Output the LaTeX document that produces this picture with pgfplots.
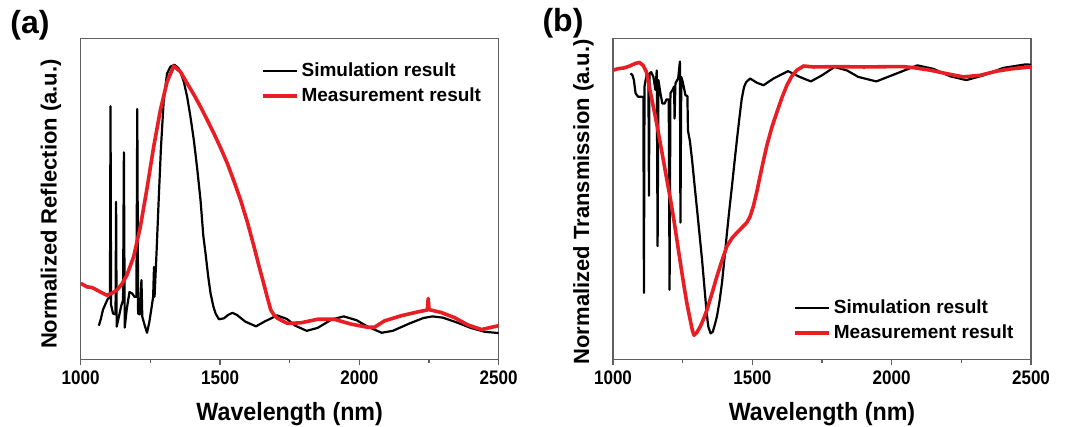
\documentclass[border=0pt]{standalone}
\usepackage{fontspec}
\setmainfont{Liberation Sans}
\usepackage{graphicx}
\usepackage{pgfplots}
\pgfplotsset{compat=1.18}
\definecolor{measred}{RGB}{232,30,36}
\definecolor{framegray}{RGB}{95,95,95}

\pgfplotsset{
  specpanel/.style={
    scale only axis, width=209pt, height=160.5pt,
    xmin=1000, xmax=2500, ymin=0, ymax=100,
    xtick={1000,1500,2000,2500}, minor x tick num=1,
    ytick=\empty, xtick pos=bottom, tick align=outside,
    major tick length=3pt, minor tick length=1.8pt,
    axis line style={framegray, line width=0.65pt},
    every tick/.style={framegray, line width=0.65pt},
    /pgf/number format/assume math mode=true,
    /pgf/number format/1000 sep={},
    xticklabel={\scalebox{0.87}[1]{\pgfmathprintnumber{\tick}}},
    xticklabel style={font=\bfseries\fontsize{9.8}{11}\selectfont, inner sep=0pt,
      anchor=north, yshift=-2.3pt},
    xlabel={\scalebox{0.93}[1]{Wavelength (nm)}},
    xlabel style={font=\bfseries\fontsize{12.5}{14}\selectfont, inner sep=0pt,
      at={(rel axis cs:0.5,0)}, anchor=north, yshift=-21.4pt},
    ylabel style={font=\bfseries\fontsize{11}{13}\selectfont, inner sep=0pt, anchor=south},
    legend style={draw=none, fill=none, inner sep=0pt,
      font=\bfseries\fontsize{9.5}{11}\selectfont,
      nodes={inner sep=1.5pt}, row sep=1pt},
    legend cell align=left,
    sim/.style={black, line width=1.1pt, line join=round},
    meas/.style={measred, line width=1.8pt, line join=round},
  }
}

\begin{document}
\begin{tikzpicture}
\useasboundingbox (0,0) rectangle (534pt,213.5pt);

% ---------------- (a) reflection ----------------
\begin{axis}[specpanel, at={(40.35pt,33.8pt)}, anchor=south west,
  ylabel={Normalized Reflection (a.u.)},
  ylabel style={at={(rel axis cs:-0.0455,0.484)}},
  legend style={at={(0.43,0.934)}, anchor=north west}]
\addplot[sim] table {
1065 10.5
1072 12.5
1080 15.5
1090 17.5
1098 19.0
1105 19.2
1107 78.9
1109 17.0
1116 14.3
1125 14.0
1127 49.1
1129 10.2
1135 12.5
1145 16.5
1152 18.5
1155 64.5
1158 9.9
1165 15.5
1175 21.0
1185 20.5
1193 19.5
1200 19.5
1203 78.0
1206 14.3
1212 14.0
1218 24.7
1221 13.3
1230 10.5
1238 8.3
1246 11.5
1254 16.0
1260 19.5
1263 28.8
1265 19.5
1272 33.0
1280 50.0
1288 66.0
1298 80.8
1310 89.1
1322 91.2
1336 91.8
1350 90.8
1358 89.6
1370 86.5
1382 81.8
1394 75.5
1406 68.3
1418 59.5
1430 49.6
1440 38.5
1448 33.0
1458 25.5
1466 20.6
1476 16.5
1484 14.3
1496 12.5
1514 12.8
1530 13.9
1544 14.5
1560 13.9
1590 11.8
1629 10.3
1660 11.8
1705 13.7
1740 12.6
1770 10.5
1811 8.9
1850 9.8
1900 12.4
1944 13.4
1990 12.2
2030 10.2
2080 8.3
2120 8.9
2180 11.2
2230 12.9
2263 13.4
2300 13.0
2350 11.5
2400 9.8
2450 8.6
2500 8.2
};
\addlegendentry{Simulation result}
\addplot[meas] table {
1000 23.7
1022 22.6
1040 22.4
1058 21.6
1075 20.8
1094 20.0
1112 20.6
1130 21.6
1148 23.5
1166 26.3
1190 32.0
1214 41.3
1238 53.3
1262 66.3
1286 77.7
1310 86.5
1334 91.4
1358 89.6
1382 86.0
1406 82.5
1430 78.7
1454 74.6
1478 70.4
1502 65.9
1526 61.1
1550 55.5
1574 49.6
1598 42.8
1622 35.1
1640 29.0
1658 23.2
1670 19.2
1682 15.4
1694 13.8
1706 12.8
1742 11.2
1790 11.4
1850 12.5
1910 12.5
1970 11.0
2030 10.0
2054 10.0
2090 12.0
2150 13.6
2210 14.8
2244 15.4
2247 19.0
2250 15.5
2294 14.6
2342 13.0
2390 10.7
2438 9.3
2474 10.0
2500 10.5
};
\addlegendentry{Measurement result}
\end{axis}

% ---------------- (b) transmission ----------------
\begin{axis}[specpanel, at={(306.5pt,33.8pt)}, anchor=south west,
  ylabel={Normalized Transmission (a.u.)},
  ylabel style={at={(rel axis cs:-0.0455,0.491)}},
  legend style={at={(0.43,0.046)}, anchor=south west}]
\addplot[sim] table {
1063 89.1
1070 88.5
1075 87.0
1081 82.9
1090 81.8
1105 81.8
1109 81.5
1111 20.7
1113 85.0
1117 87.0
1122 89.1
1127 88.5
1129 51.0
1131 89.0
1137 89.5
1145 88.0
1152 84.0
1157 90.0
1160 35.3
1163 87.0
1170 83.0
1177 79.7
1185 79.7
1192 81.0
1200 81.0
1203 21.7
1206 82.9
1214 84.0
1219 85.0
1221 75.0
1224 86.0
1234 87.6
1240 92.8
1242 42.6
1245 88.0
1250 86.5
1260 82.3
1267 82.0
1269 71.3
1276 68.0
1284 61.9
1293 54.0
1302 46.3
1311 38.5
1320 30.6
1328 22.5
1336 14.5
1342 10.2
1350 8.1
1358 8.6
1366 11.0
1373 13.4
1382 18.0
1391 23.8
1400 31.5
1409 39.5
1418 47.0
1427 54.1
1436 61.5
1445 68.7
1454 75.5
1462 81.2
1470 84.8
1478 86.4
1492 87.5
1516 86.2
1540 85.4
1576 87.5
1628 89.8
1670 88.0
1710 86.6
1750 88.5
1795 91.1
1840 90.0
1880 88.0
1945 86.6
2010 88.8
2092 91.6
2150 90.5
2210 88.2
2268 87.0
2330 88.5
2400 90.8
2480 91.9
2500 91.8
};
\addlegendentry{Simulation result}
\addplot[meas] table {
1000 90.1
1020 90.6
1040 90.8
1060 91.4
1080 92.2
1095 92.5
1108 91.6
1120 89.5
1134 83.3
1146 78.2
1158 72.9
1170 67.2
1182 61.4
1194 55.6
1206 49.9
1218 43.7
1229 37.4
1241 30.5
1253 23.8
1265 17.5
1277 12.3
1285 9.0
1291 7.5
1300 8.3
1313 10.2
1325 12.6
1337 15.4
1355 20.5
1373 25.9
1391 30.8
1409 35.3
1427 37.8
1445 39.5
1462 41.0
1480 42.6
1492 44.5
1504 47.8
1516 52.2
1528 57.2
1540 62.0
1552 66.6
1570 72.3
1588 77.0
1606 81.5
1624 85.4
1642 88.3
1660 90.1
1684 91.4
1720 91.1
1800 91.2
1900 91.1
2000 91.2
2042 91.2
2078 90.9
2138 90.1
2198 89.0
2257 88.0
2317 88.5
2377 89.8
2437 90.6
2500 91.1
};
\addlegendentry{Measurement result}
\end{axis}

\node[font=\bfseries\fontsize{16}{18}\selectfont, inner sep=0pt] at (15pt,201pt) {(a)};
\node[font=\bfseries\fontsize{16}{18}\selectfont, inner sep=0pt] at (281.5pt,201.75pt) {(b)};
\end{tikzpicture}
\end{document}
